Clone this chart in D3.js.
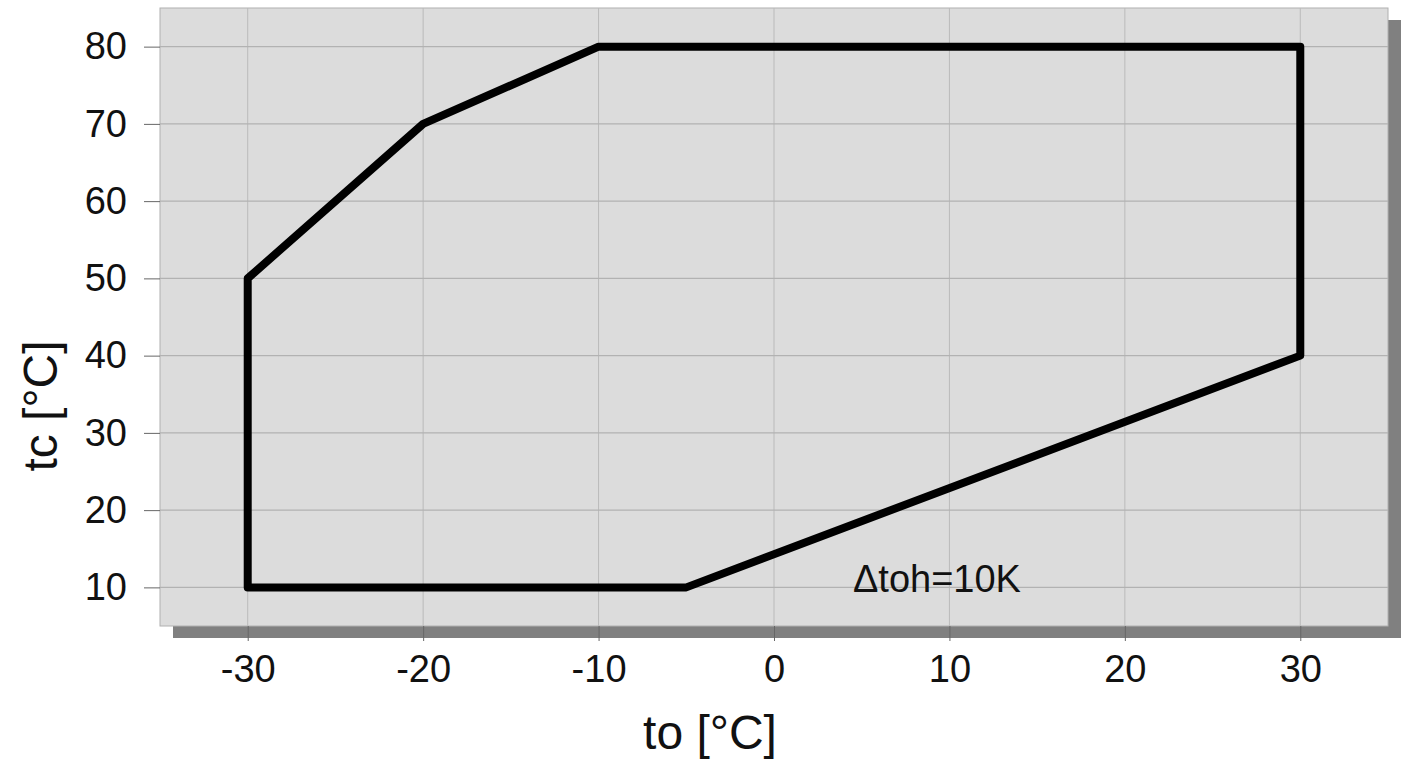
<!DOCTYPE html>
<html>
<head>
<meta charset="utf-8">
<script src="https://cdn.jsdelivr.net/npm/d3@7"></script>
<style>
  body { margin: 0; background: #fff; }
  svg { display: block; font-family: "Liberation Sans", Arial, sans-serif; }
</style>
</head>
<body>
<svg id="chart" width="1401" height="762"></svg>
<script>
// envelope corner points (to, tc)
var envTo = [-30, -30, -20, -10, 30, 30, -5];
var envTc = [10, 50, 70, 80, 80, 40, 10];
var xTicks = [-30, -20, -10, 0, 10, 20, 30];
var yTicks = [10, 20, 30, 40, 50, 60, 70, 80];
var noteText = "\u0394toh=10K";
var noteAt = [4.5, 9.4];

var svg = d3.select("#chart");
var margin = {top: 8, right: 13, bottom: 136, left: 160};
var width = 1401 - margin.left - margin.right;
var height = 762 - margin.top - margin.bottom;

var x = d3.scaleLinear().domain([-35, 35]).range([0, width]);
var y = d3.scaleLinear().domain([5, 85]).range([height, 0]);

var g = svg.append("g").attr("transform", "translate(" + margin.left + "," + margin.top + ")");

// drop shadow
g.append("rect")
    .attr("x", 13).attr("y", 12)
    .attr("width", width).attr("height", height)
    .attr("fill", "#808080");

g.append("rect")
    .attr("width", width).attr("height", height)
    .attr("fill", "#dcdcdc")
    .attr("stroke", "#b0b0b0")
    .attr("stroke-width", 1);

// grid
g.append("g")
    .selectAll("line")
    .data(xTicks)
    .enter().append("line")
    .attr("x1", function(d) { return x(d); })
    .attr("x2", function(d) { return x(d); })
    .attr("y1", 0).attr("y2", height)
    .attr("stroke", "#bababa").attr("stroke-width", 1);

g.append("g")
    .selectAll("line")
    .data(yTicks)
    .enter().append("line")
    .attr("y1", function(d) { return y(d); })
    .attr("y2", function(d) { return y(d); })
    .attr("x1", 0).attr("x2", width)
    .attr("stroke", "#b2b2b2").attr("stroke-width", 1.2);

// axes (plain hyphen minus like the original)
var fmt = function(d) { return String(d); };

var xAxis = g.append("g")
    .attr("transform", "translate(0," + height + ")")
    .call(d3.axisBottom(x).tickValues(xTicks).tickFormat(fmt).tickSize(15).tickPadding(14));
xAxis.select(".domain").remove();
xAxis.selectAll("line").attr("stroke", "#666");
xAxis.selectAll("text").attr("font-size", 38).attr("fill", "#111")
    .attr("font-family", "Liberation Sans, Arial, sans-serif");

var yAxis = g.append("g")
    .call(d3.axisLeft(y).tickValues(yTicks).tickFormat(fmt).tickSize(16).tickPadding(17));
yAxis.select(".domain").remove();
yAxis.selectAll("line").attr("stroke", "#666");
yAxis.selectAll("text").attr("font-size", 38).attr("fill", "#111")
    .attr("font-family", "Liberation Sans, Arial, sans-serif");

// envelope
var pts = envTo.map(function(d, i) { return [x(d), y(envTc[i])]; });
g.append("path")
    .attr("d", d3.line()(pts) + "Z")
    .attr("fill", "none")
    .attr("stroke", "#000")
    .attr("stroke-width", 8)
    .attr("stroke-linejoin", "round");

g.append("text")
    .attr("x", x(noteAt[0]))
    .attr("y", y(noteAt[1]))
    .attr("font-size", 38)
    .attr("fill", "#111")
    .text(noteText);

// axis titles
svg.append("text")
    .attr("x", 710).attr("y", 749)
    .attr("text-anchor", "middle")
    .attr("font-size", 48)
    .attr("fill", "#111")
    .text("to [\u00b0C]");

svg.append("text")
    .attr("transform", "translate(57,406) rotate(-90)")
    .attr("text-anchor", "middle")
    .attr("font-size", 48)
    .attr("fill", "#111")
    .text("tc [\u00b0C]");
</script>
</body>
</html>
